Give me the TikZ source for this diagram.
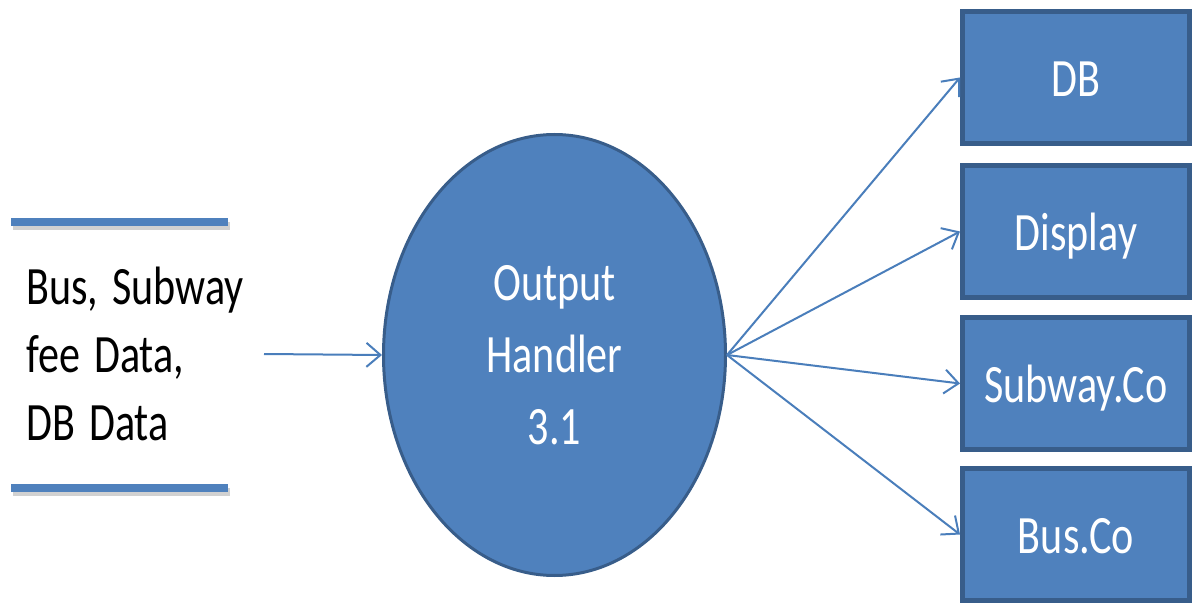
\documentclass[tikz,border=0pt]{standalone}
\usepackage{fontspec}
\setmainfont{Carlito}[FakeStretch=0.78, WordSpace=1.5]
\usetikzlibrary{arrows.meta, shapes.geometric}
\definecolor{fillblue}{HTML}{4F81BD}
\definecolor{edgeblue}{HTML}{385D8A}
\definecolor{lineblue}{HTML}{4A7EBB}
\tikzstyle{proc}=[shape=ellipse, minimum width=342pt, minimum height=441pt, inner sep=0, fill=fillblue, draw=edgeblue, line width=3pt, text=white, align=center, font=\fontsize{54}{72}\selectfont]
\tikzstyle{ent}=[shape=rectangle, minimum width=227pt, minimum height=132pt, inner sep=0, fill=fillblue, draw=edgeblue, line width=5pt, text=white, text height=48pt, text depth=10pt, font=\fontsize{54}{66}\selectfont]
\tikzstyle{flow}=[draw=lineblue, line width=2pt, -{Straight Barb[length=14pt, width=24pt]}]
\tikzstyle{store}=[draw=fillblue, line width=8pt]

\begin{document}
\begin{tikzpicture}[x=1pt, y=-1pt]
\useasboundingbox (0,0) rectangle (1200,604);
%
\foreach \y in {222,488}
    {
	\draw[black!18, line width=8pt] (13,\y+4) -- (230,\y+4);
	\draw[store] (11,\y) -- (228,\y);}
\draw (26,267) node[anchor=north west, align=left, inner sep=0, font=\fontsize{54}{68}\selectfont] (data) {Bus, Subway\\fee Data,\\DB Data};
%
\draw (554.5,355) node[proc] (oh) {Output\\Handler\\3.1};
%
\draw (1076,77.5) node[ent] (db) {DB};
\draw (1076,231.5) node[ent] (disp) {Display};
\draw (1076,383.5) node[ent] (sub) {Subway.Co};
\draw (1076,534.5) node[ent] (bus) {Bus.Co};
%
\coordinate (in) at (264,354);
\draw[flow] (in) -- (oh.west);
\foreach \b in {db,disp,sub,bus}
    {
	\draw[flow] (oh.east) -- (\b.west);}
\end{tikzpicture}
\end{document}
